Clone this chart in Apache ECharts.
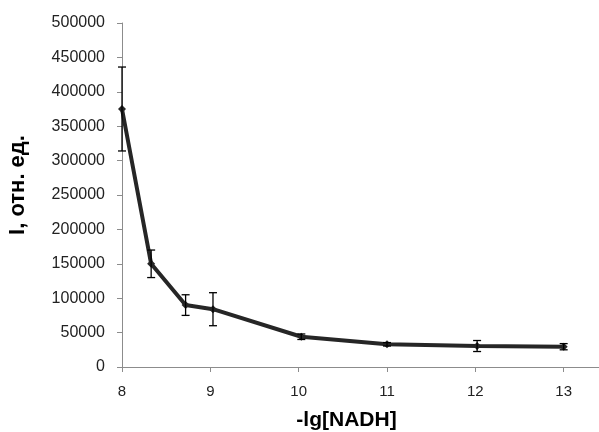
<!DOCTYPE html>
<html>
<head>
<meta charset="utf-8">
<script src="https://cdn.jsdelivr.net/npm/echarts@6/dist/echarts.min.js"></script>
<style>html,body{margin:0;padding:0;background:#fff}#c{width:599px;height:432px}</style>
</head>
<body>
<div id="c"></div>
<script>
const xValues = [8, 8.33, 8.72, 9.03, 10.03, 11.0, 12.02, 13.0];
const yValues = [375000, 150000, 90000, 84000, 44000, 33000, 30500, 29500];
const errValues = [61000, 20000, 15000, 24000, 4000, 2500, 8000, 4500];
const xTicks = [8, 9, 10, 11, 12, 13];
const yMax = 500000, yStep = 50000;

const chart = echarts.init(document.getElementById('c'));
const lineData = xValues.map((x, i) => [x, yValues[i]]);
const errData = xValues.map((x, i) => [x, yValues[i] - errValues[i], yValues[i] + errValues[i]]);
const font = 'Liberation Sans, Arial, sans-serif';
chart.setOption({
  animation: false,
  grid: {left: 122, right: 0, top: 23, bottom: 65, containLabel: false, outerBoundsMode: 'none'},
  xAxis: {
    type: 'value', min: 8, max: 13.4, interval: 1,
    name: '-lg[NADH]', nameLocation: 'middle', nameGap: 43,
    nameTextStyle: {fontFamily: font, fontWeight: 'bold', fontSize: 21, color: '#000', padding: [0, 28, 0, 0]},
    axisLine: {lineStyle: {color: '#8c8c8c', width: 1}},
    axisTick: {show: true, length: 5, lineStyle: {color: '#8c8c8c'}, customValues: xTicks},
    axisLabel: {fontFamily: font, fontSize: 15, color: '#222', margin: 17, customValues: xTicks},
    splitLine: {show: false}
  },
  yAxis: {
    type: 'value', min: 0, max: yMax, interval: yStep,
    name: 'I, отн. ед.', nameLocation: 'middle', nameGap: 93,
    nameTextStyle: {fontFamily: font, fontWeight: 'bold', fontSize: 22, color: '#000', padding: [0, 0, 0, 20]},
    axisLine: {show: true, lineStyle: {color: '#8c8c8c', width: 1}},
    axisTick: {show: true, length: 5, lineStyle: {color: '#8c8c8c'}},
    axisLabel: {fontFamily: font, fontSize: 16, color: '#222', margin: 17, formatter: v => String(v)},
    splitLine: {show: false}
  },
  series: [
    {
      type: 'line', data: lineData, symbol: 'diamond', symbolSize: 8,
      lineStyle: {color: '#262626', width: 4},
      itemStyle: {color: '#262626'}, z: 3
    },
    {
      type: 'custom', data: errData, z: 4,
      renderItem: function (params, api) {
        const x = api.value(0);
        const lo = api.coord([x, api.value(1)]);
        const hi = api.coord([x, api.value(2)]);
        const w = 4;
        const st = {stroke: '#000', lineWidth: 1.3};
        return {type: 'group', children: [
          {type: 'line', shape: {x1: lo[0], y1: lo[1], x2: hi[0], y2: hi[1]}, style: st},
          {type: 'line', shape: {x1: lo[0] - w, y1: lo[1], x2: lo[0] + w, y2: lo[1]}, style: st},
          {type: 'line', shape: {x1: hi[0] - w, y1: hi[1], x2: hi[0] + w, y2: hi[1]}, style: st}
        ]};
      }
    }
  ]
});
</script>
</body>
</html>
